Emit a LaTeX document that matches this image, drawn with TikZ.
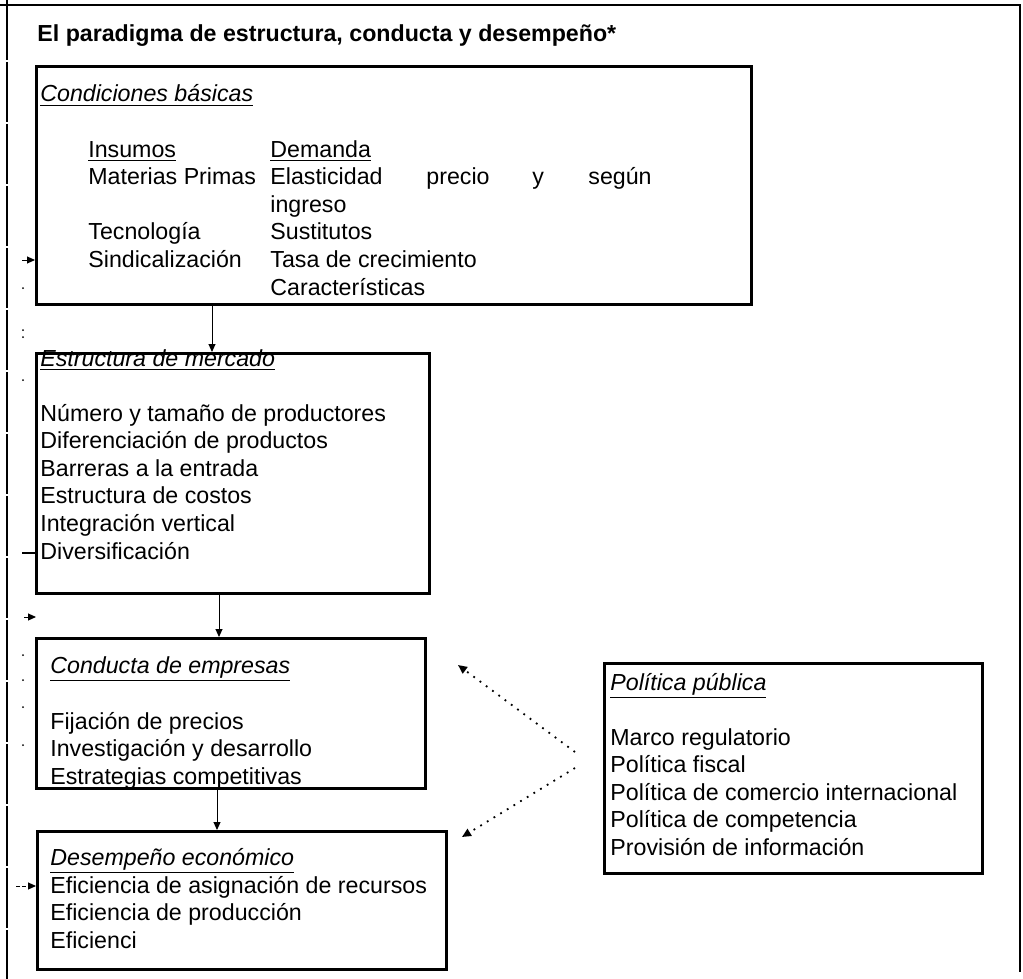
\documentclass[tikz,border=0pt]{standalone}
\usepackage{fontspec}
\setmainfont{Liberation Sans}
\usetikzlibrary{arrows.meta}
\begin{document}
\begin{tikzpicture}[x=0.5pt,y=-0.5pt,
  box/.style={draw, line width=1.6pt, inner sep=0pt, anchor=north west},
  txt/.style={anchor=base west, inner sep=0pt, align=left, font=\fontsize{11.6}{13.8}\selectfont},
  hd/.style={anchor=base west, inner sep=0pt, font=\fontsize{11.6}{13.8}\selectfont\itshape},
  arr/.style={line width=0.5pt, -{Triangle[length=4pt,width=3.5pt]}},
  darr/.style={line width=0.9pt, dash pattern=on 0.9pt off 3pt, -{Triangle[length=4.5pt,width=4pt]}},
  frameline/.style={line width=0.6pt},
  speck/.style={fill=black, inner sep=0pt, minimum size=1pt, circle}]
\useasboundingbox (0,0) rectangle (1023,979);
% outer frame
\coordinate (ftl) at (7,0);
\coordinate (fbl) at (7,979);
\coordinate (ftr) at (1020,5);
\coordinate (fbr) at (1020,972);
\draw[frameline, dash pattern=on 30pt off 1pt] (ftl) -- (fbl);
\draw[frameline] (0,5) -- (ftr) -- (fbr);
% title
\node[txt, font=\fontsize{11.6}{13.8}\selectfont\bfseries] (title) at (37,42) {El paradigma de estructura, conducta y desempeño*};
% boxes
\node[box, minimum width=357.5pt, minimum height=119pt] (b1) at (35,65) {};
\node[box, minimum width=196.5pt, minimum height=120pt] (b2) at (35,352) {};
\node[box, minimum width=194.5pt, minimum height=75pt] (b3) at (35,637) {};
\node[box, minimum width=204.5pt, minimum height=69pt] (b4) at (36,830) {};
\node[box, minimum width=189pt, minimum height=105pt] (b5) at (603,662) {};
% box 1 text (multi-line nodes are placed by the baseline of their last line)
\node[hd] (h1) at (40,102) {\underline{Condiciones básicas}};
\node[txt] (in) at (88,267.4) {\underline{Insumos}\\Materias Primas\\[13.8pt]Tecnología\\Sindicalización};
\node[txt] (de) at (270,157) {\underline{Demanda}};
\node[txt] (el) at (270,184.6) {Elasticidad};
\node[txt] (pr) at (426,184.6) {precio};
\node[txt] (yy) at (532,184.6) {y};
\node[txt] (sg) at (588,184.6) {según};
\node[txt] (ig) at (270,295) {ingreso\\Sustitutos\\Tasa de crecimiento\\Características};
% box 2 text
\node[hd] (h2) at (40,366) {\underline{Estructura de mercado}};
\node[txt] (t2) at (40,559) {Número y tamaño de productores\\Diferenciación de productos\\Barreras a la entrada\\Estructura de costos\\Integración vertical\\Diversificación};
% box 3 text
\node[hd] (h3) at (50,673) {\underline{Conducta de empresas}};
\node[txt] (t3) at (50,784.2) {Fijación de precios\\Investigación y desarrollo\\Estrategias competitivas};
% box 4 text
\node[hd] (h4) at (50,865) {\underline{Desempeño económico}};
\node[txt] (t4) at (50,948.2) {Eficiencia de asignación de recursos\\Eficiencia de producción\\Eficienci};
% box 5 text
\node[hd] (h5) at (610,690) {\underline{Política pública}};
\node[txt] (t5) at (610,855.4) {Marco regulatorio\\Política fiscal\\Política de comercio internacional\\Política de competencia\\Provisión de información};
% vertical arrows
\coordinate (c12) at (212,0);
\coordinate (c23) at (219,0);
\coordinate (c34) at (217,0);
\draw[arr] (b1.south -| c12) -- (b2.north -| c12);
\draw[arr] (b2.south -| c23) -- (b3.north -| c23);
\draw[arr] (b3.south -| c34) -- (b4.north -| c34);
% dotted arrows from policy
\coordinate (p1) at (575,752);
\coordinate (q1) at (458,665);
\coordinate (p2) at (575,768);
\coordinate (q2) at (462,837);
\draw[darr] (p1) -- (q1);
\draw[darr] (p2) -- (q2);
% left margin marks
\coordinate (m1) at (22,260);
\coordinate (m2) at (22,553);
\coordinate (m3) at (24,617);
\coordinate (m3e) at (36,617);
\coordinate (m4) at (16,886);
\draw[arr] (m1) -- (m1 -| b1.west);
\draw[line width=0.6pt] (m2) -- (m2 -| b2.west);
\draw[arr, dash pattern=on 2pt off 1pt] (m3) -- (m3e);
\draw[arr, dash pattern=on 2pt off 1pt] (m4) -- (m4 -| b4.west);
\foreach \yy [count=\i] in {288,330,337,380,655,680,707,745}
  \node[speck] (s\i) at (23,\yy) {};
\end{tikzpicture}
\end{document}
